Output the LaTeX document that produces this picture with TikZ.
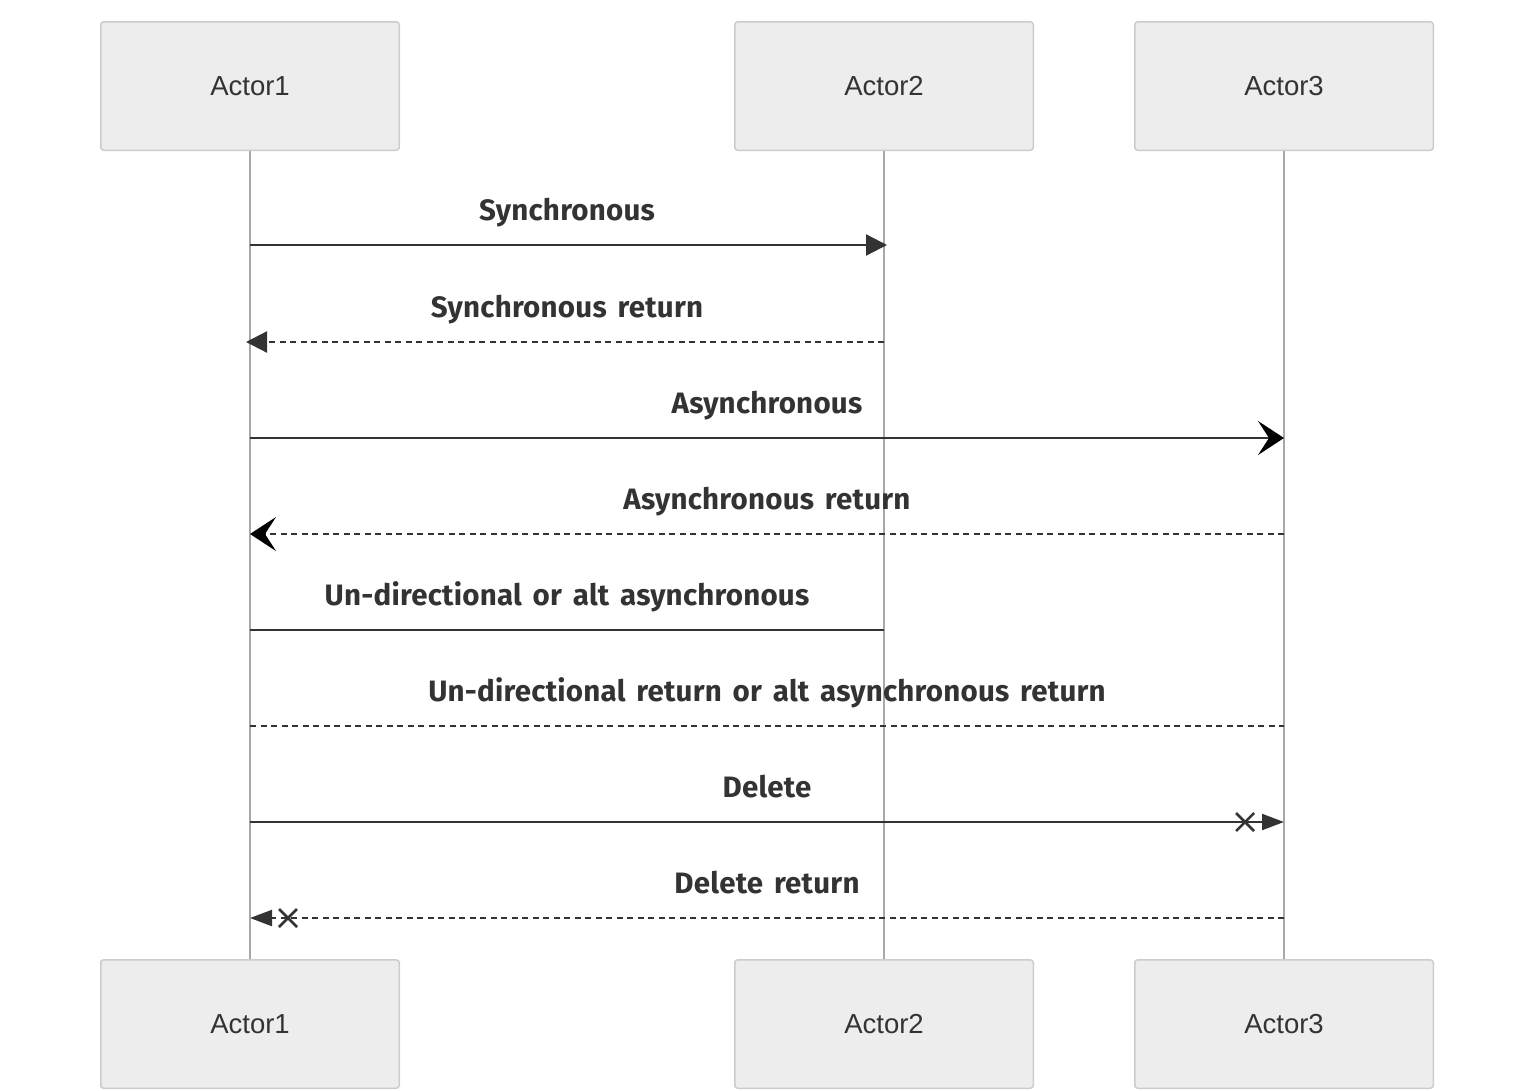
\documentclass[tikz,border=0pt]{standalone}
\usepackage{fontspec}
\setmainfont{Liberation Sans}
\newfontfamily\lblfont{Fira Sans}[WordSpace=1.5, LetterSpace=0.8]
\usetikzlibrary{arrows.meta}
\definecolor{boxfill}{HTML}{EDEDED}
\definecolor{boxline}{HTML}{CCCCCC}
\definecolor{ink}{HTML}{333333}
\definecolor{lifecol}{HTML}{A8A8A8}
\tikzset{
  actor/.style={draw=boxline, fill=boxfill, line width=1.5pt, rounded corners=3pt,
    minimum width=298.5pt, minimum height=128.5pt, inner sep=0pt,
    font=\fontsize{27.5}{31}\selectfont, text=ink},
  lifeline/.style={draw=lifecol, line width=1.3pt},
  msg/.style={draw=ink, line width=2.2pt},
  dash6/.style={dash pattern=on 6pt off 4.5pt},
  lbl/.style={font=\lblfont\bfseries\fontsize{29.5}{36}\selectfont, text=ink, anchor=base, inner sep=0pt, midway, yshift=25pt},
  tri/.style={-{Triangle[length=21pt,width=21pt,color=ink]}},
  smalltri/.style={-{Triangle[length=22pt,width=16pt,color=ink]}},
  barb/.style={-{Stealth[length=26pt,width=34pt,inset=11pt,color=black]}},
  xmk/.style={draw=ink, line width=2.5pt}
}
\begin{document}
\begin{tikzpicture}[x=1pt,y=-1pt]
\useasboundingbox (0,0) rectangle (1534,1090);
% actors
\node[actor] (a1t) at (250,86) {Actor1};
\node[actor] (a2t) at (884,86) {Actor2};
\node[actor] (a3t) at (1284,86) {Actor3};
\node[actor] (a1b) at (250,1024) {Actor1};
\node[actor] (a2b) at (884,1024) {Actor2};
\node[actor] (a3b) at (1284,1024) {Actor3};
% lifelines
\draw[lifeline] (a1t) -- (a1b);
\draw[lifeline] (a2t) -- (a2b);
\draw[lifeline] (a3t) -- (a3b);
% lifeline points
\foreach \yy [count=\i] in {245,342,438,534,630,726,822,918} {
  \coordinate (p1-\i) at (250,\yy);
  \coordinate (p2-\i) at (884,\yy);
  \coordinate (p3-\i) at (1284,\yy);
}
\coordinate (x7) at (1245,822);
\coordinate (x8) at (288,918);
% messages
\draw[msg, tri, shorten >=-3pt] (p1-1) -- (p2-1) node[lbl] (l1) {Synchronous};
\draw[msg, dash6, tri, shorten >=-4pt] (p2-2) -- (p1-2) node[lbl] (l2) {Synchronous return};
\draw[msg, barb] (p1-3) -- (p3-3) node[lbl] (l3) {Asynchronous};
\draw[msg, dash6, barb] (p3-4) -- (p1-4) node[lbl] (l4) {Asynchronous return};
\draw[msg] (p1-5) -- (p2-5) node[lbl] (l5) {Un-directional or alt asynchronous};
\draw[msg, dash6] (p1-6) -- (p3-6) node[lbl] (l6) {Un-directional return or alt asynchronous return};
\draw[msg, smalltri] (p1-7) -- (p3-7) node[lbl] (l7) {Delete};
\draw[xmk] (x7) +(-9,-9) -- +(9,9) (x7) +(-9,9) -- +(9,-9);
\draw[msg, dash6, smalltri] (p3-8) -- (p1-8) node[lbl] (l8) {Delete return};
\draw[xmk] (x8) +(-9,-9) -- +(9,9) (x8) +(-9,9) -- +(9,-9);
\end{tikzpicture}
\end{document}
